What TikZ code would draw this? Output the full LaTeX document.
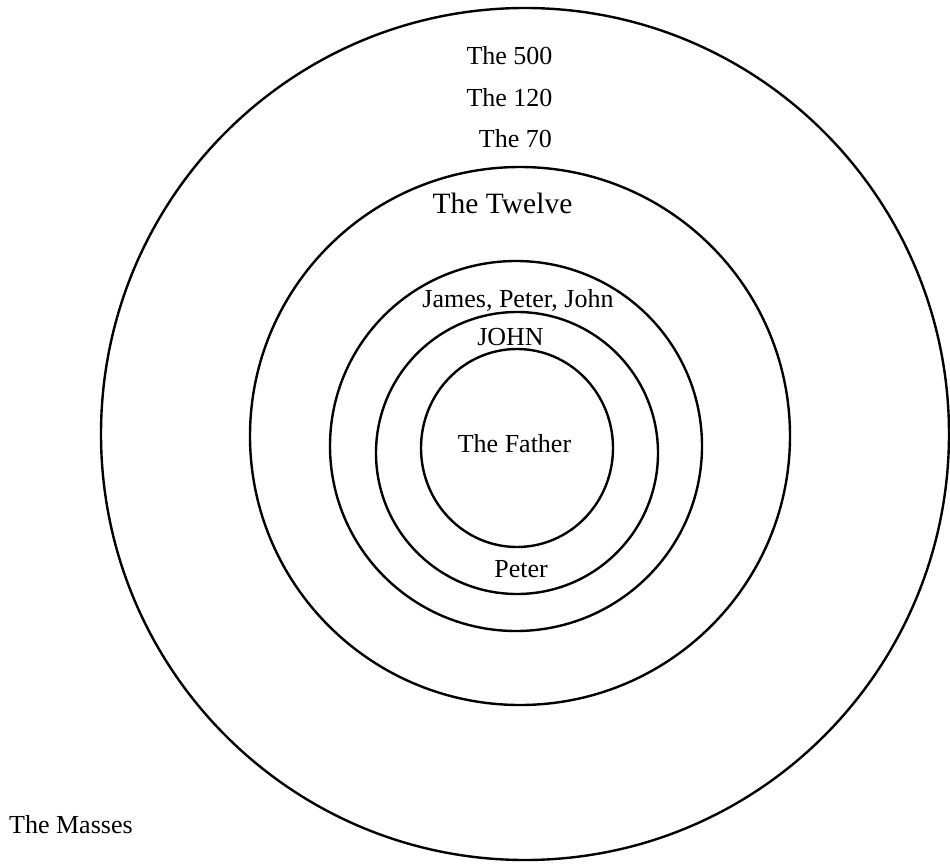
\documentclass[tikz,border=0pt]{standalone}
\usepackage{fontspec}
\setmainfont{Liberation Serif}
\usepackage{tikz}
\usetikzlibrary{positioning}
\definecolor{ink}{RGB}{0,0,0}
\tikzset{
  ring/.style={draw=ink,line width=2.4pt},
  lbl/.style={inner sep=0pt,anchor=base,font=\fontsize{26}{28}\selectfont,text=ink},
  biglbl/.style={lbl,font=\fontsize{29.5}{32}\selectfont},
}

\begin{document}
\begin{tikzpicture}[x=1pt,y=-1pt]
\useasboundingbox (0,0) rectangle (950,864);
% rings, outside in
\draw[ring] (525,434) ellipse [x radius=424,y radius=426];
\draw[ring] (520,436) ellipse [x radius=270,y radius=269];
\draw[ring] (516,446) ellipse [x radius=186,y radius=185];
\draw[ring] (517,453) ellipse [x radius=141,y radius=141];
\draw[ring] (517,448) ellipse [x radius=96,y radius=99];
% labels
\node[lbl] (five) at (509.5,65) {The 500};
\node[lbl] (onetwenty) at (509.5,107) {The 120};
\node[lbl,anchor=base east] (seventy) at (552,147) {The 70};
\node[biglbl] (twelve) at (502.5,213) {The Twelve};
\node[lbl] (three) at (518,307) {James, Peter, John};
\node[lbl] (john) at (510.5,345) {JOHN};
\node[lbl] (father) at (514.5,452) {The Father};
\node[lbl] (peter) at (521,577) {Peter};
\node[lbl,anchor=base west] (masses) at (9,833) {The Masses};
\end{tikzpicture}
\end{document}
